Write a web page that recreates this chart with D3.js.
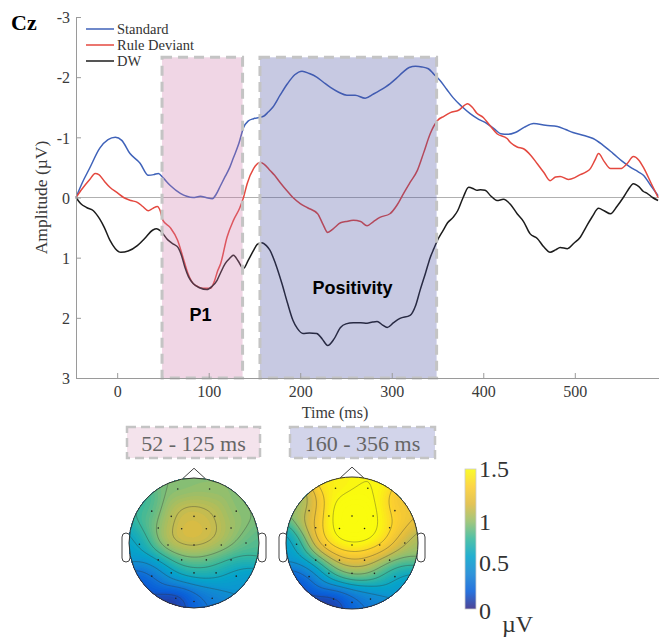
<!DOCTYPE html>
<html>
<head>
<meta charset="utf-8">
<script src="https://cdn.jsdelivr.net/npm/d3@7"></script>
<style>
body { margin: 0; background: #fff; }
svg { display: block; }
</style>
</head>
<body>
<div id="chart"></div>
<script>
// erp waveforms at Cz: [time ms, amplitude uV]
const standard = [[-45,0],[-38,-0.25],[-30,-0.49],[-19,-0.82],[-10,-0.96],[-2,-1.0],[5,-0.95],[14,-0.73],[25,-0.57],[34,-0.37],[40,-0.38],[45,-0.40],[50,-0.33],[58,-0.2],[69,-0.07],[76,-0.02],[83,0],[91,-0.02],[97,0],[104,0.02],[108,-0.05],[113,-0.2],[118,-0.35],[123,-0.5],[127,-0.66],[133,-0.9],[138,-1.16],[143,-1.27],[149,-1.31],[160,-1.35],[165,-1.42],[170,-1.5],[178,-1.7],[186,-1.89],[194,-2.04],[202,-2.1],[210,-2.06],[218,-2.0],[225,-1.92],[233,-1.83],[242,-1.75],[251,-1.7],[260,-1.7],[271,-1.65],[280,-1.72],[287,-1.78],[298,-1.89],[305,-1.98],[312,-2.08],[319,-2.16],[326,-2.18],[333,-2.17],[340,-2.14],[346,-2.05],[353,-1.94],[360,-1.8],[367,-1.66],[376,-1.52],[386,-1.39],[395,-1.3],[404,-1.23],[412,-1.14],[419,-1.06],[427,-1.05],[435,-1.08],[445,-1.17],[455,-1.23],[468,-1.2],[481,-1.18],[490,-1.13],[498,-1.08],[510,-1.03],[520,-0.98],[530,-0.88],[542,-0.73],[552,-0.6],[561,-0.5],[569,-0.43],[575,-0.37],[583,-0.2],[591,-0.03]];
const ruleDeviant = [[-45,0],[-38,-0.15],[-30,-0.3],[-24,-0.4],[-20,-0.38],[-14,-0.27],[-8,-0.17],[0,-0.08],[7,0],[15,0.05],[22,0.08],[28,0.15],[34,0.22],[39,0.18],[44,0.15],[47,0.22],[50,0.38],[58,0.5],[66,0.71],[72,1.0],[77,1.25],[82,1.41],[88,1.48],[94,1.51],[102,1.51],[106,1.4],[110,1.21],[113,1.1],[120,0.66],[127,0.38],[134,0.17],[138,0.0],[142,-0.23],[149,-0.48],[156,-0.58],[160,-0.56],[167,-0.45],[172,-0.37],[178,-0.25],[185,-0.12],[192,0],[200,0.1],[208,0.17],[219,0.27],[225,0.45],[230,0.58],[236,0.52],[244,0.42],[250,0.4],[258,0.38],[266,0.4],[273,0.47],[280,0.4],[287,0.33],[298,0.27],[306,0.12],[313,-0.07],[320,-0.25],[328,-0.45],[335,-0.75],[342,-1.06],[350,-1.28],[357,-1.35],[364,-1.41],[373,-1.45],[383,-1.56],[388,-1.5],[393,-1.4],[400,-1.33],[407,-1.2],[415,-1.06],[426,-0.98],[430,-0.91],[437,-0.84],[444,-0.81],[452,-0.7],[459,-0.56],[466,-0.42],[473,-0.28],[479,-0.34],[484,-0.35],[493,-0.3],[500,-0.33],[506,-0.38],[512,-0.42],[517,-0.48],[522,-0.62],[526,-0.73],[532,-0.6],[539,-0.48],[550,-0.48],[557,-0.56],[564,-0.68],[570,-0.62],[575,-0.5],[583,-0.25],[591,0]];
const dw = [[-45,0],[-40,0.1],[-33,0.17],[-26,0.22],[-19,0.36],[-14,0.5],[-8,0.71],[-2,0.85],[4,0.91],[12,0.89],[22,0.8],[30,0.68],[39,0.54],[43,0.52],[47,0.55],[55,0.7],[62,0.78],[66,0.82],[70,0.95],[74,1.16],[78,1.32],[83,1.43],[90,1.5],[98,1.53],[104,1.47],[109,1.38],[113,1.25],[118,1.1],[123,1.01],[127,0.96],[132,1.05],[138,1.18],[143,1.05],[149,0.88],[153,0.78],[158,0.75],[163,0.8],[167,0.88],[173,1.1],[180,1.43],[186,1.75],[192,2.04],[197,2.18],[203,2.26],[210,2.25],[218,2.26],[224,2.35],[230,2.46],[237,2.35],[244,2.16],[250,2.1],[258,2.08],[266,2.08],[273,2.09],[279,2.07],[284,2.06],[290,2.12],[295,2.16],[302,2.08],[309,2.01],[320,1.96],[326,1.8],[331,1.54],[337,1.25],[342,1.0],[346,0.85],[350,0.71],[356,0.55],[361,0.42],[367,0.33],[372,0.22],[378,0.0],[384,-0.17],[390,-0.14],[393,-0.12],[397,-0.13],[402,-0.12],[408,-0.03],[415,0.05],[422,0.03],[430,0.12],[437,0.27],[444,0.4],[451,0.6],[459,0.68],[466,0.82],[473,0.91],[479,0.87],[484,0.83],[492,0.85],[499,0.76],[506,0.66],[512,0.5],[519,0.32],[526,0.18],[532,0.22],[539,0.27],[546,0.15],[553,0.0],[558,-0.12],[564,-0.23],[570,-0.18],[575,-0.1],[579,-0.07],[585,0.0],[591,0.05]];

const seriesNames = ["Standard", "Rule Deviant", "DW"];
const seriesColors = ["#3f62b9", "#e4483f", "#1c1c1c"];

const yTicks = [-3, -2, -1, 0, 1, 2, 3];
const xTicks = [0, 100, 200, 300, 400, 500];

// analysis windows (ms) and their labels
const winStart = [49, 156];
const winEnd = [137, 349];
const winLabels = ["52 - 125 ms", "160 - 356 ms"];
const compLabels = ["P1", "Positivity"];
const compTime = [91, 257];
const compAmp = [2.05, 1.6];

// electrodes, head coords (nose up, y down)
const elecNames = ["Fp1","Fp2","F7","F3","Fz","F4","F8","FC5","FC1","FC2","FC6","T7","C3","Cz","C4","T8","CP5","CP1","CP2","CP6","P7","P3","Pz","P4","P8","O1","Oz","O2"];
const elecX = [-0.25,0.24,-0.65,-0.35,0,0.32,0.65,-0.55,-0.19,0.19,0.57,-0.84,-0.4,0,0.42,0.8,-0.55,-0.19,0.19,0.57,-0.65,-0.35,0,0.34,0.65,-0.28,0,0.28];
const elecY = [-0.83,-0.83,-0.49,-0.41,-0.41,-0.41,-0.49,-0.23,-0.22,-0.22,-0.23,0.02,0.03,0.03,0.03,0.0,0.26,0.26,0.26,0.26,0.51,0.46,0.46,0.46,0.51,0.85,0.9,0.85];
// mean amplitude per window (uV)
const mapP1 = [0.9,0.92,0.72,1.08,1.08,1.05,0.88,0.88,1.15,1.14,0.98,0.55,1.15,1.15,1.06,0.8,0.58,0.92,0.92,0.72,0.1,0.48,0.58,0.58,0.45,0.0,0.22,0.35];
const mapPos = [1.45,1.5,0.9,1.6,1.62,1.6,1.2,1.15,1.62,1.62,1.4,0.5,1.5,1.58,1.52,0.95,0.7,1.25,1.28,0.9,0.05,0.6,0.8,0.75,0.45,0.0,0.22,0.35];
const cbarTicks = [0, 0.5, 1, 1.5];

// parula-like colormap
const parulaStops = ["#352a87","#0b5fd8","#1485d4","#06a4ca","#37b89d","#95bf6c","#dfbb40","#fccf30","#f9fb0e"];

const W = 659, H = 637;
const serif = "'Liberation Serif', 'Times New Roman', serif";
const sans = "'Liberation Sans', Arial, sans-serif";

const svg = d3.select("#chart").append("svg")
    .attr("width", W)
    .attr("height", H);

// scales
const x = d3.scaleLinear().domain([-45, 592]).range([76, 659]);
const y = d3.scaleLinear().domain([-3, 3]).range([17, 378]);
const winTop = -2.33;

// zero line
svg.append("line")
    .attr("x1", x(-45)).attr("x2", x(592))
    .attr("y1", y(0)).attr("y2", y(0))
    .attr("stroke", "#b0b0b0")
    .attr("stroke-width", 1.2);

// waveforms
const line = d3.line()
    .x(d => x(d[0]))
    .y(d => y(d[1]))
    .curve(d3.curveMonotoneX);

[standard, ruleDeviant, dw].forEach((s, i) => {
    svg.append("path")
        .datum(s)
        .attr("fill", "none")
        .attr("stroke", seriesColors[i])
        .attr("stroke-width", 1.5)
        .attr("d", line);
});

// shaded windows drawn over the lines
const winFill = ["rgb(205,120,170)", "rgb(70,75,160)"];
winStart.forEach((s, i) => {
    svg.append("rect")
        .attr("x", x(s))
        .attr("y", y(winTop))
        .attr("width", x(winEnd[i]) - x(s))
        .attr("height", y(3) - y(winTop))
        .attr("fill", winFill[i])
        .attr("fill-opacity", 0.3)
        .attr("stroke", "#c4c4c4")
        .attr("stroke-width", 3)
        .attr("stroke-dasharray", "10,6");
});

// component labels
compLabels.forEach((t, i) => {
    svg.append("text")
        .attr("x", x(compTime[i]))
        .attr("y", y(compAmp[i]))
        .attr("text-anchor", "middle")
        .style("font-family", sans)
        .style("font-weight", "bold")
        .style("font-size", "18px")
        .attr("fill", "#000")
        .text(t);
});

// axes
const yAxis = svg.append("g")
    .attr("transform", `translate(${x(-45)},0)`)
    .call(d3.axisLeft(y).tickValues(yTicks).tickFormat(d => String(d))
        .tickSizeInner(-5).tickSizeOuter(0).tickPadding(6));
const xAxis = svg.append("g")
    .attr("transform", `translate(0,${y(3)})`)
    .call(d3.axisBottom(x).tickValues(xTicks).tickFormat(d => String(d))
        .tickSizeInner(-5).tickSizeOuter(0).tickPadding(8));
[yAxis, xAxis].forEach(a => {
    a.select(".domain").attr("stroke", "#9a9a9a");
    a.selectAll(".tick line").attr("stroke", "#9a9a9a");
    a.selectAll(".tick text")
        .style("font-family", serif)
        .style("font-size", "16px")
        .attr("fill", "#3a3a3a");
});
yAxis.selectAll(".tick text").attr("dy", "0.36em");

// axis titles
svg.append("text")
    .attr("transform", `translate(47,${y(0)}) rotate(-90)`)
    .attr("text-anchor", "middle")
    .style("font-family", serif)
    .style("font-size", "17.5px")
    .attr("fill", "#3a3a3a")
    .text("Amplitude (\u00b5V)");
svg.append("text")
    .attr("x", 335)
    .attr("y", 418)
    .attr("text-anchor", "middle")
    .style("font-family", serif)
    .style("font-size", "16px")
    .attr("fill", "#3a3a3a")
    .text("Time (ms)");

// channel title
svg.append("text")
    .attr("x", 11)
    .attr("y", 30)
    .style("font-family", serif)
    .style("font-weight", "bold")
    .style("font-size", "22px")
    .text("Cz");

// legend
seriesNames.forEach((name, i) => {
    const ly = 29 + i * 16;
    svg.append("line")
        .attr("x1", 86).attr("x2", 114)
        .attr("y1", ly).attr("y2", ly)
        .attr("stroke", seriesColors[i])
        .attr("stroke-width", 1.5);
    svg.append("text")
        .attr("x", 117)
        .attr("y", ly)
        .attr("dy", "0.35em")
        .style("font-family", serif)
        .style("font-size", "14.5px")
        .attr("fill", "#333")
        .text(name);
});

// topographic maps
const color = d3.scaleLinear()
    .domain(d3.range(parulaStops.length).map(k => k * 1.5 / (parulaStops.length - 1)))
    .range(parulaStops)
    .clamp(true);

const n = 96, ext = 1.08, sigma = 0.2;
const makeField = (vals) => {
    const grid = new Array(n * n);
    for (let j = 0; j < n; j++) {
        for (let i = 0; i < n; i++) {
            const gx = -ext + (i + 0.5) / n * 2 * ext;
            const gy = -ext + (j + 0.5) / n * 2 * ext;
            let ws = 0, vs = 0;
            for (let k = 0; k < vals.length; k++) {
                const d2 = (gx - elecX[k]) ** 2 + (gy - elecY[k]) ** 2;
                const w = Math.exp(-d2 / (2 * sigma * sigma));
                ws += w;
                vs += w * vals[k];
            }
            grid[j * n + i] = vs / ws;
        }
    }
    return grid;
};

const heads = [
    {cx: 194, cy: 543, r: 65, vals: mapP1, fill: "#f4e3ec"},
    {cx: 352, cy: 543, r: 66, vals: mapPos, fill: "#d2d4ea"}
];
const boxX = [[127, 260], [290, 435]];
const fillStep = 0.025;
const fillLevels = d3.range(-0.3, 1.9, fillStep);
const lineLevels = d3.range(0.15, 1.6, 0.15);

heads.forEach((h, hi) => {
    const g = svg.append("g");
    const proj = d3.geoIdentity()
        .scale(2 * ext * h.r / n)
        .translate([h.cx - ext * h.r, h.cy - ext * h.r]);
    const path = d3.geoPath(proj);
    const grid = makeField(h.vals);

    // ears
    [-1, 1].forEach(side => {
        g.append("rect")
            .attr("x", side < 0 ? h.cx - h.r - 7 : h.cx + h.r - 1)
            .attr("y", h.cy - 10)
            .attr("width", 8)
            .attr("height", 29)
            .attr("rx", 4)
            .attr("fill", "#fff")
            .attr("stroke", "#444")
            .attr("stroke-width", 1);
    });
    // nose
    g.append("path")
        .attr("d", `M${h.cx - 0.18 * h.r},${h.cy - 0.985 * h.r} L${h.cx},${h.cy - 1.15 * h.r} L${h.cx + 0.18 * h.r},${h.cy - 0.985 * h.r}`)
        .attr("fill", "#fff")
        .attr("stroke", "#444")
        .attr("stroke-width", 1);

    const clipId = "head" + hi;
    svg.append("clipPath").attr("id", clipId)
        .append("circle")
        .attr("cx", h.cx).attr("cy", h.cy).attr("r", h.r);

    const maps = g.append("g").attr("clip-path", `url(#${clipId})`);
    maps.selectAll("path.fill")
        .data(d3.contours().size([n, n]).thresholds(fillLevels)(grid))
        .join("path")
        .attr("class", "fill")
        .attr("d", path)
        .attr("fill", d => color(d.value + fillStep / 2))
        .attr("fill-opacity", 0.86);
    maps.selectAll("path.iso")
        .data(d3.contours().size([n, n]).thresholds(lineLevels)(grid))
        .join("path")
        .attr("class", "iso")
        .attr("d", path)
        .attr("fill", "none")
        .attr("stroke", "#333")
        .attr("stroke-opacity", 0.5)
        .attr("stroke-width", 0.7);

    // electrodes
    g.selectAll("circle.el")
        .data(elecNames)
        .join("circle")
        .attr("class", "el")
        .attr("cx", (d, k) => h.cx + elecX[k] * h.r)
        .attr("cy", (d, k) => h.cy + elecY[k] * h.r)
        .attr("r", 0.8)
        .attr("fill", "#222");

    g.append("circle")
        .attr("cx", h.cx).attr("cy", h.cy).attr("r", h.r)
        .attr("fill", "none")
        .attr("stroke", "#333")
        .attr("stroke-width", 1);

    // window label box
    svg.append("rect")
        .attr("x", boxX[hi][0])
        .attr("y", 427)
        .attr("width", boxX[hi][1] - boxX[hi][0])
        .attr("height", 31)
        .attr("fill", h.fill)
        .attr("stroke", "#c4c4c4")
        .attr("stroke-width", 2.5)
        .attr("stroke-dasharray", "9,5");
    svg.append("text")
        .attr("x", (boxX[hi][0] + boxX[hi][1]) / 2)
        .attr("y", 443)
        .attr("dy", "0.35em")
        .attr("text-anchor", "middle")
        .style("font-family", serif)
        .style("font-size", "22px")
        .attr("fill", "#666")
        .text(winLabels[hi]);
});

// colorbar
const cb = d3.scaleLinear().domain([0, 1.5]).range([609, 469]);
const grad = svg.append("defs").append("linearGradient")
    .attr("id", "parula")
    .attr("x1", 0).attr("y1", 1).attr("x2", 0).attr("y2", 0);
parulaStops.forEach((c, k) => {
    grad.append("stop")
        .attr("offset", k / (parulaStops.length - 1))
        .attr("stop-color", c)
        .attr("stop-opacity", 0.88);
});
svg.append("rect")
    .attr("x", 465)
    .attr("y", cb(1.5))
    .attr("width", 11)
    .attr("height", cb(0) - cb(1.5))
    .attr("fill", "url(#parula)")
    .attr("stroke", "#ccc")
    .attr("stroke-width", 0.8);
cbarTicks.forEach(t => {
    svg.append("text")
        .attr("x", 479)
        .attr("y", cb(t) + (t === 0 ? 2 : 0) + (t === 1 ? 6 : 0))
        .attr("dy", "0.35em")
        .style("font-family", serif)
        .style("font-size", "24px")
        .attr("fill", "#333")
        .text(t);
});
svg.append("text")
    .attr("x", 502)
    .attr("y", 632)
    .style("font-family", serif)
    .style("font-size", "24px")
    .attr("fill", "#333")
    .text("\u00b5V");
</script>
</body>
</html>
